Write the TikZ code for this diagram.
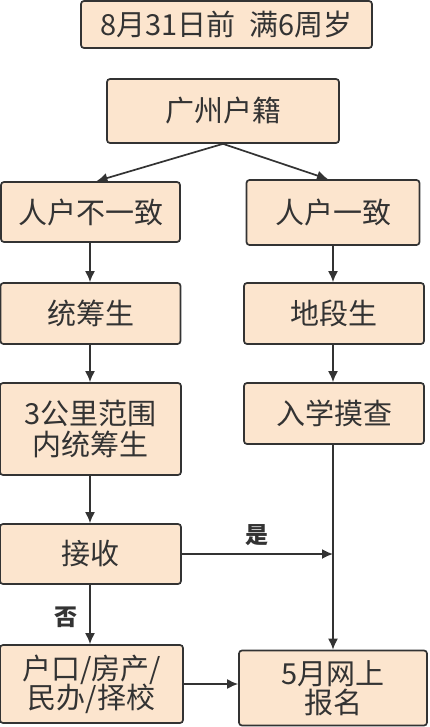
\documentclass[tikz,border=0pt]{standalone}
\usepackage{fontspec}
\newfontfamily\cjk{Noto Sans CJK SC}
\usetikzlibrary{arrows.meta,positioning,calc}
\definecolor{boxfill}{RGB}{252,229,206}
\definecolor{ink}{RGB}{51,51,51}

\begin{document}
\begin{tikzpicture}[
  x=1pt, y=-1pt,
  font=\cjk\fontsize{29}{33}\selectfont, text=ink,
  box/.style={draw=ink, line width=1.7pt, rounded corners=3pt, align=center,
    fill=boxfill, inner sep=0pt},
  arr/.style={-{Latex[length=11pt, width=10pt]}, line width=1.7pt, draw=ink},
  note/.style={font=\cjk\bfseries\fontsize{23}{26}\selectfont, text=ink}
]
  \useasboundingbox (0,0) rectangle (430,727);
  \fill[white] (0,0) rectangle (430,727);

  \node[box, minimum width=291pt, minimum height=47pt] (age) at (226.5,24.5) {8月31日前\hspace{0.5em}满6周岁};
  \node[box, minimum width=232pt, minimum height=64pt] (hj) at (223,111) {广州户籍};
  \node[box, minimum width=179pt, minimum height=60pt] (diff) at (90.5,212) {人户不一致};
  \node[box, minimum width=173pt, minimum height=65pt] (same) at (333,212.5) {人户一致};
  \node[box, minimum width=180pt, minimum height=61pt] (tcs) at (90.5,313.5) {统筹生};
  \node[box, minimum width=180pt, minimum height=61pt] (dds) at (334,313.5) {地段生};
  \node[box, minimum width=181pt, minimum height=92pt] (km) at (90.5,429) {3公里范围\\[-2pt]内统筹生};
  \node[box, minimum width=180pt, minimum height=61pt] (mc) at (334,413.5) {入学摸查};
  \node[box, minimum width=181pt, minimum height=60pt] (js) at (90.5,554) {接收};
  \node[box, minimum width=183pt, minimum height=78pt] (alt) at (91.5,684) {户口/房产/\\[-4pt]民办/择校};
  \node[box, minimum width=188pt, minimum height=75pt] (bm) at (333,688) {5月网上\\[-4pt]报名};

  \coordinate (yes) at (bm.north |- js.east);

  \draw[arr] (hj.south) -- ($(diff.north)+(6,0)$);
  \draw[arr] (hj.south) -- ($(same.north)+(-5,0)$);
  \draw[arr] (diff.south -| 90,0) -- (tcs.north -| 90,0);
  \draw[arr] (tcs.south -| 90,0) -- (km.north -| 90,0);
  \draw[arr] (km.south -| 90,0) -- (js.north -| 90,0);
  \draw[arr] (js.south -| 90,0) -- node[note, left=8pt, pos=0.55] {否} (alt.north -| 90,0);
  \draw[arr] (same.south) -- (dds.north -| same.south);
  \draw[arr] (dds.south -| same.south) -- (mc.north -| same.south);
  \draw[arr] (mc.south -| same.south) -- (bm.north);
  \draw[arr] (js.east) -- node[note, above=4pt] {是} (yes);
  \draw[arr] (alt.east) -- (alt.east -| bm.west);
\end{tikzpicture}
\end{document}
